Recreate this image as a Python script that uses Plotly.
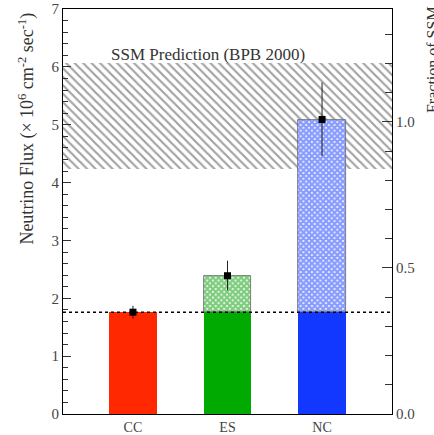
import plotly.graph_objects as go

# ---- data ----
categories = ["CC", "ES", "NC"]
flux = [1.76, 2.39, 5.09]
err_plus = [0.11, 0.26, 0.64]
err_minus = [0.11, 0.25, 0.63]
cc_level = 1.76
ssm_central = 5.05
ssm_err_plus = 1.01
ssm_err_minus = 0.81
left_ticks = [0, 1, 2, 3, 4, 5, 6, 7]
right_ticks = [0.0, 0.5, 1.0]
right_tick_text = ["0.0", "0.5", "1.0"]

# ---- styles ----
solid_colors = ["#ff2800", "#00aa00", "#1238ff"]
pattern_colors = ["#ff2800", "#009a00", "#1238ff"]
FONT = "Liberation Serif"
x_range = [-0.74, 2.74]
y_max = 7

xpos = list(range(len(categories)))
upper = [f - cc_level for f in flux]

fig = go.Figure()

# SSM band (hatched)
ssm_low = ssm_central - ssm_err_minus
ssm_high = ssm_central + ssm_err_plus
fig.add_trace(go.Bar(
    x=[sum(x_range) / 2], y=[ssm_high - ssm_low], base=[ssm_low],
    width=[x_range[1] - x_range[0]],
    marker=dict(color="black", line=dict(width=0),
                pattern=dict(shape="\\", size=6, solidity=0.36, bgcolor="rgba(0,0,0,0)")),
    showlegend=False, hoverinfo="skip",
))

# lower solid bars
fig.add_trace(go.Bar(
    x=xpos, y=[cc_level] * 3, width=0.5,
    marker=dict(color=solid_colors, line=dict(width=0)),
    showlegend=False,
))

# upper patterned bars
fig.add_trace(go.Bar(
    x=xpos[1:], y=upper[1:], base=[cc_level] * 2, width=0.5,
    marker=dict(color="white", line=dict(width=0.8, color="#666666"),
                pattern=dict(shape="x", size=4, solidity=0.8,
                             fgcolor=pattern_colors[1:], bgcolor="white", fillmode="overlay")),
    showlegend=False,
))

# measurements with error bars
fig.add_trace(go.Scatter(
    x=xpos, y=flux, mode="markers",
    marker=dict(symbol="square", size=7, color="black"),
    error_y=dict(type="data", array=err_plus, arrayminus=err_minus,
                 color="#222222", thickness=1, width=0),
    showlegend=False,
))

# invisible trace for right axis
fig.add_trace(go.Scatter(x=[x_range[0]], y=[0], yaxis="y2", mode="markers",
                         marker=dict(opacity=0), showlegend=False, hoverinfo="skip"))

fig.add_shape(type="line", xref="paper", x0=0, x1=1, yref="y", y0=cc_level, y1=cc_level,
              line=dict(color="black", width=1.5, dash="dot"), layer="above")

fig.add_annotation(x=0.794, y=6.21, xref="x", yref="y", text="SSM Prediction (BPB 2000)",
                   showarrow=False, font=dict(family=FONT, size=17, color="#333333"))

fig.add_annotation(x=-0.109, y=0.705, xref="paper", yref="paper", textangle=-90,
                   xanchor="center", yanchor="middle",
                   text="Neutrino Flux (× 10<sup>6</sup> cm<sup>-2</sup> sec<sup>-1</sup>)",
                   showarrow=False, font=dict(family=FONT, size=18, color="#333333"))
fig.add_annotation(x=1.1216, y=0.874, xref="paper", yref="paper", textangle=-90,
                   xanchor="center", yanchor="middle",
                   text="Fraction of SSM",
                   showarrow=False, font=dict(family=FONT, size=16, color="#333333"))

fig.update_layout(
    width=434, height=435,
    margin=dict(l=63, r=42, t=9, b=21, autoexpand=False),
    plot_bgcolor="white", paper_bgcolor="white",
    barmode="overlay", bargap=0,
    font=dict(family=FONT, size=15, color="#444444"),
    xaxis=dict(range=x_range, tickvals=xpos, ticktext=categories, showgrid=False,
               zeroline=False, showline=True, linecolor="black", linewidth=1, mirror=True,
               ticks="", tickfont=dict(family=FONT, size=14), automargin=False),
    yaxis=dict(range=[0, y_max], tickvals=left_ticks, showgrid=False, zeroline=False,
               showline=True, linecolor="black", linewidth=1, mirror=True,
               ticks="inside", ticklen=8, tickcolor="#333333", automargin=False,
               tickfont=dict(family=FONT, size=15),
               minor=dict(dtick=0.2, ticks="inside", ticklen=5, tickcolor="#333333")),
    yaxis2=dict(range=[0, y_max / ssm_central], overlaying="y", side="right",
                tickvals=right_ticks, ticktext=right_tick_text, showgrid=False, zeroline=False,
                showline=True, linecolor="black", linewidth=1, automargin=False,
                ticks="inside", ticklen=10, tickcolor="#333333",
                tickfont=dict(family=FONT, size=15),
                minor=dict(dtick=0.1, ticks="inside", ticklen=7, tickcolor="#333333")),
)

fig.write_html("out.html", config={"displayModeBar": False},
               post_script="document.body.style.margin='0';document.body.style.overflow='hidden';")
